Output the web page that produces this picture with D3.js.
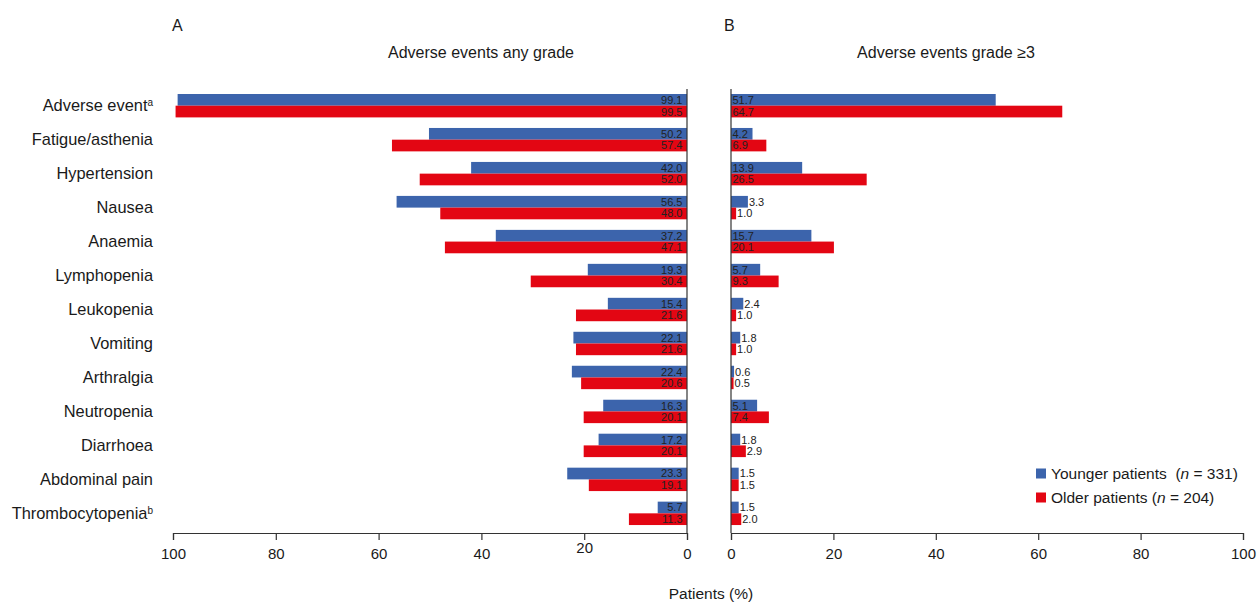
<!DOCTYPE html>
<html>
<head>
<meta charset="utf-8">
<script src="https://cdn.jsdelivr.net/npm/d3@7"></script>
<style>
  html, body { margin: 0; padding: 0; background: #fff; }
  svg { display: block; font-family: "Liberation Sans", Arial, Helvetica, sans-serif; }
</style>
</head>
<body>
<svg id="chart" width="1258" height="602"></svg>
<script>
// Adverse event categories (superscript footnote marks kept separately)
const categories = ["Adverse event", "Fatigue/asthenia", "Hypertension", "Nausea", "Anaemia",
  "Lymphopenia", "Leukopenia", "Vomiting", "Arthralgia", "Neutropenia", "Diarrhoea",
  "Abdominal pain", "Thrombocytopenia"];
const footnotes = ["a", "", "", "", "", "", "", "", "", "", "", "", "b"];

// Panel A: any grade (% of patients)
const youngerAny = [99.1, 50.2, 42.0, 56.5, 37.2, 19.3, 15.4, 22.1, 22.4, 16.3, 17.2, 23.3, 5.7];
const olderAny   = [99.5, 57.4, 52.0, 48.0, 47.1, 30.4, 21.6, 21.6, 20.6, 20.1, 20.1, 19.1, 11.3];

// Panel B: grade >= 3 (% of patients)
const youngerG3 = [51.7, 4.2, 13.9, 3.3, 15.7, 5.7, 2.4, 1.8, 0.6, 5.1, 1.8, 1.5, 1.5];
const olderG3   = [64.7, 6.9, 26.5, 1.0, 20.1, 9.3, 1.0, 1.0, 0.5, 7.4, 2.9, 1.5, 2.0];

const tickValues = [0, 20, 40, 60, 80, 100];
const seriesNames = ["Younger patients", "Older patients"];
const seriesN = [331, 204];

const BLUE = "#3c64ac";
const RED = "#e30613";
const TEXT = "#1a1a1a";

const svg = d3.select("#chart");

// Shared vertical layout
const yTop = 94, rowStep = 33.97, barH = 11.7;
const y = d3.scaleBand()
  .domain(categories)
  .range([yTop, yTop + rowStep * categories.length])
  .paddingInner(0).paddingOuter(0);
const sub = d3.scaleBand().domain([0, 1]).range([0, barH * 2]);

const axisY = 533;
const lineTop = 89;

// Horizontal scales: panel A runs right-to-left, panel B left-to-right
const xA = d3.scaleLinear().domain([0, 100]).range([687, 173]);
const xB = d3.scaleLinear().domain([0, 100]).range([731, 1243]);

const fmt = d3.format(".1f");

// Category labels
const lab = svg.append("g").attr("font-size", 16.4).attr("fill", TEXT)
  .selectAll("text").data(categories).join("text")
  .attr("x", 153)
  .attr("y", d => y(d) + barH)
  .attr("dy", "0.35em")
  .attr("text-anchor", "end");
lab.append("tspan").text(d => d);
lab.append("tspan")
  .attr("font-size", 10)
  .attr("dy", "-0.55em")
  .text((d, i) => footnotes[i]);

function panel(x, series, mirrored) {
  const g = svg.append("g");
  series.forEach((vals, si) => {
    const color = si === 0 ? BLUE : RED;
    g.append("g").selectAll("rect").data(vals).join("rect")
      .attr("x", d => mirrored ? x(d) : x(0))
      .attr("width", d => Math.abs(x(d) - x(0)))
      .attr("y", (d, i) => y(categories[i]) + sub(si))
      .attr("height", sub.bandwidth())
      .attr("fill", color);

    const labels = g.append("g").attr("font-size", 11).attr("fill", "#222")
      .selectAll("text").data(vals).join("text")
      .attr("y", (d, i) => y(categories[i]) + sub(si) + sub.bandwidth() / 2)
      .attr("dy", "0.36em")
      .text(d => fmt(d));

    if (mirrored) {
      labels.attr("x", x(0) - 4.5).attr("text-anchor", "end");
    } else {
      labels.each(function (d) {
        const w = this.getComputedTextLength();
        const barW = x(d) - x(0);
        d3.select(this)
          .attr("text-anchor", "start")
          .attr("x", barW > w + 3 ? x(0) + 1.5 : x(d) + 1);
      });
    }
  });

  // zero line
  g.append("line")
    .attr("x1", x(0)).attr("x2", x(0))
    .attr("y1", lineTop).attr("y2", axisY)
    .attr("stroke", "#333").attr("stroke-width", 1.2);

  // bottom axis
  const ax = g.append("g")
    .attr("transform", `translate(0,${axisY})`)
    .call(d3.axisBottom(x).tickValues(tickValues).tickSize(7).tickPadding(8).tickFormat(d3.format("d")));
  ax.select(".domain").attr("stroke", "#333").attr("stroke-width", 1.2);
  ax.selectAll(".tick line").attr("stroke", "#333").attr("stroke-width", 1.2);
  ax.selectAll(".tick text")
    .attr("font-size", 15)
    .attr("font-family", "Liberation Sans, Arial, sans-serif")
    .attr("fill", TEXT);
  return ax;
}

const axA = panel(xA, [youngerAny, olderAny], true);
panel(xB, [youngerG3, olderG3], false);

// the "20" label on panel A's axis sits slightly higher
axA.selectAll(".tick text").filter(d => d === 20).attr("dy", "0.31em");

// Panel letters and titles
svg.append("text").attr("x", 172).attr("y", 31).attr("font-size", 16).attr("fill", TEXT).text("A");
svg.append("text").attr("x", 724).attr("y", 31).attr("font-size", 16).attr("fill", TEXT).text("B");
svg.append("text").attr("x", 481).attr("y", 58).attr("font-size", 16).attr("fill", TEXT)
  .attr("text-anchor", "middle").text("Adverse events any grade");
svg.append("text").attr("x", 946).attr("y", 58).attr("font-size", 16).attr("fill", TEXT)
  .attr("text-anchor", "middle").text("Adverse events grade \u22653");

// Shared axis title
svg.append("text").attr("x", 711).attr("y", 599).attr("font-size", 15.5).attr("fill", TEXT)
  .attr("text-anchor", "middle").text("Patients (%)");

// Legend
const leg = svg.append("g").attr("font-size", 15.5).attr("fill", TEXT);
seriesNames.forEach((name, i) => {
  const ly = 474 + i * 24;
  leg.append("rect").attr("x", 1036).attr("y", ly - 5.5).attr("width", 10).attr("height", 10)
    .attr("fill", i === 0 ? BLUE : RED);
  const t = leg.append("text").attr("x", 1051).attr("y", ly).attr("dy", "0.35em");
  t.append("tspan").text(name + (i === 0 ? "\u00a0\u00a0(" : " ("));
  t.append("tspan").attr("font-style", "italic").text("n");
  t.append("tspan").text(` = ${seriesN[i]})`);
});
</script>
</body>
</html>
